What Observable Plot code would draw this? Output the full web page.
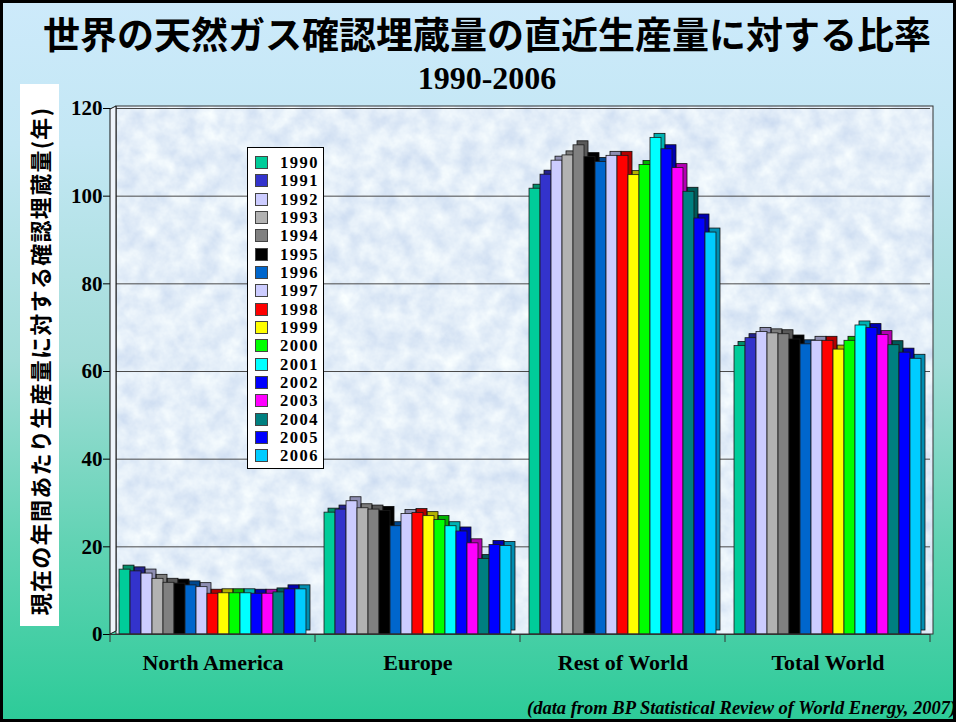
<!DOCTYPE html>
<html>
<head>
<meta charset="utf-8">
<script src="https://cdn.jsdelivr.net/npm/d3@7"></script>
<script src="https://cdn.jsdelivr.net/npm/@observablehq/plot@0.6"></script>
<style>
  body { margin: 0; }
  #page {
    position: relative; width: 956px; height: 722px; overflow: hidden;
    background: linear-gradient(to bottom, #cdeafb 0%, #c3e7f4 20%, #a2ddd8 50%, #62d3b4 75%, #2ccb98 100%);
  }
  #title {
    position: absolute; left: 18px; width: 938px; top: 11px; text-align: center;
    font: bold 37px/44px "Noto Sans CJK JP", sans-serif; color: #000; white-space: nowrap;
  }
  #subtitle {
    position: absolute; left: 18px; width: 938px; top: 61.5px; text-align: center;
    font: bold 32px/32px "Liberation Serif", "Times New Roman", serif; color: #000;
  }
  #ybox { position: absolute; left: 20px; top: 84px; width: 39px; height: 542px; background: #fff; }
  #ylabel {
    position: absolute; left: 39px; top: 361px; transform: translate(-50%, -50%) rotate(-90deg);
    font: bold 22px "Noto Sans CJK JP", sans-serif; letter-spacing: 1.3px; color: #000; white-space: nowrap;
  }
  #chart { position: absolute; left: 0; top: 90px; }
  #legend {
    position: absolute; left: 247px; top: 147px; width: 75px; height: 320px;
    background: #fff; border: 1px solid #000;
  }
  #legend .sw { position: absolute; left: 7px; width: 11px; height: 11px; border: 1px solid #444; }
  #legend .lb {
    position: absolute; left: 32px; font: bold 16.5px/13px "Liberation Serif", "Times New Roman", serif;
    letter-spacing: 1.5px; color: #000; white-space: nowrap;
  }
  #caption {
    position: absolute; left: 527px; top: 699px; white-space: nowrap;
    font: italic bold 18.5px/18px "Liberation Serif", "Times New Roman", serif; color: #000;
  }
  #border { position: absolute; inset: 0; border: 3px solid #000; box-sizing: border-box; pointer-events: none; }
</style>
</head>
<body>
<div id="page">
  <div id="title">世界の天然ガス確認埋蔵量の直近生産量に対する比率</div>
  <div id="subtitle">1990-2006</div>
  <div id="ybox"></div>
  <div id="ylabel">現在の年間あたり生産量に対する確認埋蔵量(年)</div>
  <div id="chart"></div>
  <div id="legend"></div>
  <div id="caption">(data from BP Statistical Review of World Energy, 2007)</div>
  <div id="border"></div>
</div>
<script>
// Reserves-to-production ratio (years), one series per region
const groups = ["North America", "Europe", "Rest of World", "Total World"];
const years = ["1990", "1991", "1992", "1993", "1994", "1995", "1996", "1997", "1998",
               "1999", "2000", "2001", "2002", "2003", "2004", "2005", "2006"];
const yearColors = ["#00cc99", "#3333cc", "#ccccff", "#b2b2b2", "#808080", "#000000", "#0066cc",
                    "#ccccff", "#ff0000", "#ffff00", "#00ff00", "#00ffff", "#0000ff", "#ff00ff",
                    "#008080", "#0000ff", "#00ccff"];
const northAmerica = [14.8, 14.4, 13.9, 12.7, 11.8, 11.6, 11.2, 10.8, 9.3, 9.4, 9.4, 9.4, 9.3, 9.3, 9.6, 10.3, 10.3];
const europe       = [27.8, 28.5, 30.4, 28.8, 28.5, 28.2, 24.7, 27.5, 27.7, 27.0, 26.1, 24.7, 23.5, 20.8, 17.2, 20.4, 20.2];
const restOfWorld  = [101.7, 104.9, 108.1, 109.3, 111.6, 108.9, 107.8, 109.2, 109.2, 104.8, 107.1, 113.3, 110.7, 106.4, 101.0, 94.9, 91.7];
const totalWorld   = [65.8, 67.6, 69.0, 68.7, 68.5, 67.3, 66.2, 67.0, 67.0, 65.0, 67.0, 70.5, 69.9, 68.3, 66.0, 64.3, 62.9];
const yTicks = [0, 20, 40, 60, 80, 100, 120];

const series = [northAmerica, europe, restOfWorld, totalWorld];
const rows = groups.flatMap((group, gi) =>
  years.map((year, i) => ({group, year, value: series[gi][i]})));

const plot = Plot.plot({
  width: 956,
  height: 600,
  marginLeft: 110,
  marginRight: 26,
  marginTop: 18,
  marginBottom: 56,
  style: {
    background: "transparent",
    fontFamily: "'Liberation Serif', 'Times New Roman', serif",
    fontSize: "21px",
    fontWeight: "bold",
    color: "#000"
  },
  fx: {domain: groups, padding: 0, round: false, axis: "bottom", tickSize: 0, tickPadding: 20, label: null},
  x: {domain: years, axis: null, round: false, paddingInner: 0, paddingOuter: 0.82, align: 0.5},
  y: {domain: [0, 120], ticks: yTicks, tickSize: 7, tickPadding: 1, label: null},
  color: {domain: years, range: yearColors},
  marks: [
    Plot.ruleY(yTicks.filter((t) => t > 0), {stroke: "#4a4a4a", strokeWidth: 1}),
    // depth faces of each bar (top and side)
    Plot.barY(rows, {fx: "group", x: "year", y: "value", fill: "year", dx: 4, dy: -4}),
    Plot.barY(rows, {fx: "group", x: "year", y: "value", fill: "#000", fillOpacity: 0.3,
                     stroke: "#111", strokeWidth: 0.8, dx: 4, dy: -4}),
    // front faces
    Plot.barY(rows, {fx: "group", x: "year", y: "value", fill: "year", stroke: "#1a1a1a", strokeWidth: 0.8}),
    Plot.ruleY([0], {stroke: "#333", strokeWidth: 1})
  ]
});

// Chart wall, floor ticks and mottled backdrop
const svg = d3.select(plot);
const fx = plot.scale("fx");
const ys = plot.scale("y");
const [xa, xb] = fx.range;
const y0 = ys.apply(0);
const yTop = ys.apply(yTicks[yTicks.length - 1]);

svg.insert("rect", ":first-child")
  .attr("x", xa + 6).attr("y", yTop - 2)
  .attr("width", xb + 3 - (xa + 6)).attr("height", y0 - yTop + 2)
  .attr("fill", "#e3eef9")
  .attr("filter", "url(#mottle)");
svg.insert("defs", ":first-child").html(
  `<filter id="mottle" x="0" y="0" width="1" height="1" color-interpolation-filters="sRGB">
     <feTurbulence type="fractalNoise" baseFrequency="0.05" numOctaves="4" seed="7"/>
     <feColorMatrix type="matrix" values="0.22 0 0 0 0.785  0.17 0 0 0 0.85  0.07 0 0 0 0.94  0 0 0 0 1"/>
   </filter>`);
svg.append("rect")
  .attr("x", xa + 6).attr("y", yTop - 2)
  .attr("width", xb + 3 - (xa + 6)).attr("height", y0 - yTop + 2)
  .attr("fill", "none").attr("stroke", "#333").attr("stroke-width", 1);
svg.append("polygon")
  .attr("points", [[xa, yTop + 1], [xa + 6, yTop - 2], [xa + 6, y0 - 3], [xa, y0]].join(" "))
  .attr("fill", "#eef4fb").attr("stroke", "#111").attr("stroke-width", 1);
const bounds = groups.map((g) => fx.apply(g)).concat([xb]);
svg.append("g").selectAll("line").data(bounds).join("line")
  .attr("x1", (d) => d).attr("x2", (d) => d)
  .attr("y1", y0).attr("y2", y0 + 8)
  .attr("stroke", "#333").attr("stroke-width", 1);
svg.selectAll('g[aria-label^="fx-axis"] text').style("font-size", "22px");

document.getElementById("chart").appendChild(plot);

// Year legend
const legend = d3.select("#legend");
years.forEach((year, i) => {
  const top = 8 + i * 18.33;
  legend.append("div").attr("class", "sw").style("top", `${top}px`).style("background", yearColors[i]);
  legend.append("div").attr("class", "lb").style("top", `${top}px`).text(year);
});
</script>
</body>
</html>
